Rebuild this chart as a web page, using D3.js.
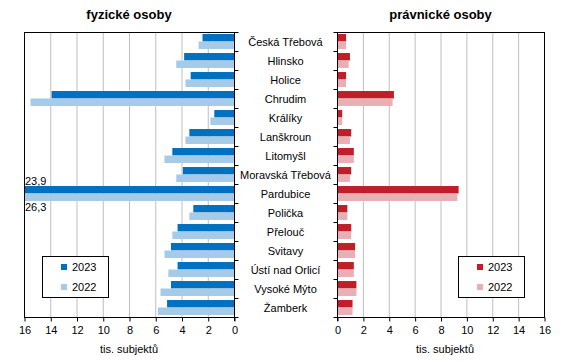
<!DOCTYPE html>
<html>
<head>
<meta charset="utf-8">
<script src="https://cdn.jsdelivr.net/npm/d3@7"></script>
<style>
  body { margin: 0; background: #fff; }
  svg { font-family: Arial, "Liberation Sans", sans-serif; }
</style>
</head>
<body>
<script>
const towns = ['Česká Třebová', 'Hlinsko', 'Holice', 'Chrudim', 'Králíky', 'Lanškroun', 'Litomyšl',
  'Moravská Třebová', 'Pardubice', 'Polička', 'Přelouč', 'Svitavy', 'Ústí nad Orlicí', 'Vysoké Mýto', 'Žamberk']
const years = ['2023', '2022']

// thousands of subjects
const fyzicke2023 = [2.4, 3.8, 3.3, 13.9, 1.5, 3.4, 4.7, 3.9, 23.9, 3.1, 4.3, 4.8, 4.3, 4.8, 5.1]
const fyzicke2022 = [2.7, 4.4, 3.7, 15.5, 1.8, 3.7, 5.3, 4.4, 26.3, 3.4, 4.7, 5.3, 5.0, 5.6, 5.8]
const pravnicke2023 = [0.7, 1.0, 0.7, 4.4, 0.4, 1.1, 1.3, 1.1, 9.4, 0.8, 1.1, 1.4, 1.3, 1.5, 1.2]
const pravnicke2022 = [0.7, 0.9, 0.7, 4.3, 0.4, 1.0, 1.3, 1.0, 9.3, 0.8, 1.1, 1.4, 1.3, 1.5, 1.2]
const xTicks = [0, 2, 4, 6, 8, 10, 12, 14, 16]

const blue = ['#0070c0', '#a6cbe8']
const red = ['#c01f29', '#e9afb5']
const grid = '#bfbfbf'

const width = 567
const height = 362
const plotTop = 32
const plotBottom = 317
const xMax = 16

const svg = d3.select('body').append('svg').attr('width', width).attr('height', height)

const y = d3.scaleBand().domain(towns).range([plotTop, plotBottom])
const ySub = d3.scaleBand().domain(years).range([0, y.bandwidth()]).paddingOuter(0.27)

function panel(opts) {
    const { x, values, colors, title, legendX, labelIdx, unitX } = opts
    const g = svg.append('g')
    const [xa, xb] = x.range()
    const left = Math.min(xa, xb)
    const right = Math.max(xa, xb)

    // grid
    g.selectAll('line.grid')
        .data(xTicks.filter(d => d > 0 && d < xMax))
        .enter()
        .append('line')
        .attr('x1', d => x(d) + 0.5).attr('x2', d => x(d) + 0.5)
        .attr('y1', plotTop).attr('y2', plotBottom)
        .attr('stroke', grid)
        .attr('stroke-width', 1)

    // bars, cut at the frame
    const clip = 'clip-' + title.replace(/\W/g, '')
    svg.append('clipPath').attr('id', clip)
        .append('rect').attr('x', left).attr('y', plotTop).attr('width', right - left).attr('height', plotBottom - plotTop)

    years.forEach((yr, s) => {
        g.append('g').attr('clip-path', `url(#${clip})`)
            .selectAll('rect')
            .data(values[s])
            .enter()
            .append('rect')
            .attr('x', d => Math.min(x(0), x(Math.min(d, xMax))))
            .attr('width', d => Math.abs(x(Math.min(d, xMax)) - x(0)))
            .attr('y', (d, i) => y(towns[i]) + ySub(yr))
            .attr('height', ySub.bandwidth())
            .attr('fill', colors[s])
    })

    // frame
    g.append('rect')
        .attr('x', left + 0.5).attr('y', plotTop + 0.5)
        .attr('width', right - left).attr('height', plotBottom - plotTop)
        .attr('fill', 'none').attr('stroke', '#000')

    // bottom axis
    const xAxis = d3.axisBottom(x).tickValues(xTicks).tickSize(4).tickFormat(d3.format('d'))
    const ax = g.append('g').attr('transform', `translate(0.5,${plotBottom + 0.5})`).call(xAxis)
    ax.select('.domain').remove()
    ax.selectAll('text').attr('font-size', 11).attr('fill', '#000').attr('dy', '0.9em')

    // category axis ticks at band edges
    const zeroX = x(0)
    const dir = zeroX > left + 1 ? 4 : -4
    const bounds = towns.map(t => y(t)).concat([plotBottom])
    g.selectAll('line.cat')
        .data(bounds)
        .enter()
        .append('line')
        .attr('x1', zeroX + 0.5)
        .attr('x2', zeroX + 0.5 + dir)
        .attr('y1', d => Math.round(d) + 0.5).attr('y2', d => Math.round(d) + 0.5)
        .attr('stroke', '#000')
    g.append('line')
        .attr('x1', zeroX + 0.5).attr('x2', zeroX + 0.5)
        .attr('y1', plotTop).attr('y2', plotBottom + 4)
        .attr('stroke', '#000')

    // title
    g.append('text')
        .attr('x', (left + right) / 2).attr('y', 19)
        .attr('text-anchor', 'middle')
        .attr('font-size', 13).attr('font-weight', 'bold')
        .text(title)

    g.append('text')
        .attr('x', unitX).attr('y', 353)
        .attr('text-anchor', 'middle')
        .attr('font-size', 11)
        .text('tis. subjektů')

    // labels for the values that run off the scale
    if (labelIdx !== undefined) {
        const t = towns[labelIdx]
        const fmt = v => d3.format('.1f')(v).replace('.', ',')
        g.append('text')
            .attr('x', left + 1).attr('y', y(t) + ySub(years[0]) - 1)
            .attr('font-size', 11)
            .text(fmt(values[0][labelIdx]))
        g.append('text')
            .attr('x', left + 1).attr('y', y(t) + ySub(years[1]) + ySub.bandwidth() + 10)
            .attr('font-size', 11)
            .text(fmt(values[1][labelIdx]))
    }

    // legend
    const lg = g.append('g').attr('transform', `translate(${legendX},256)`)
    lg.append('rect').attr('x', 0.5).attr('y', 0.5).attr('width', 66).attr('height', 41)
        .attr('fill', '#fff').attr('stroke', '#000')
    years.forEach((yr, i) => {
        lg.append('rect').attr('x', 19).attr('y', 8 + i * 20).attr('width', 6).attr('height', 6)
            .attr('fill', colors[i])
        lg.append('text').attr('x', 30).attr('y', 15 + i * 20)
            .attr('font-size', 11).text(yr)
    })
}

// category labels
svg.append('g')
    .selectAll('text')
    .data(towns)
    .enter()
    .append('text')
    .attr('x', 285.5)
    .attr('y', d => y(d) + y.bandwidth() / 2 + 4)
    .attr('text-anchor', 'middle')
    .attr('font-size', 11)
    .text(d => d)

panel({
    x: d3.scaleLinear().domain([0, xMax]).range([234, 24]),
    values: [fyzicke2023, fyzicke2022],
    colors: blue,
    title: 'fyzické osoby',
    legendX: 42,
    labelIdx: 8,
    unitX: 129
})

panel({
    x: d3.scaleLinear().domain([0, xMax]).range([337, 544]),
    values: [pravnicke2023, pravnicke2022],
    colors: red,
    title: 'právnické osoby',
    legendX: 458,
    unitX: 445
})
</script>
</body>
</html>
